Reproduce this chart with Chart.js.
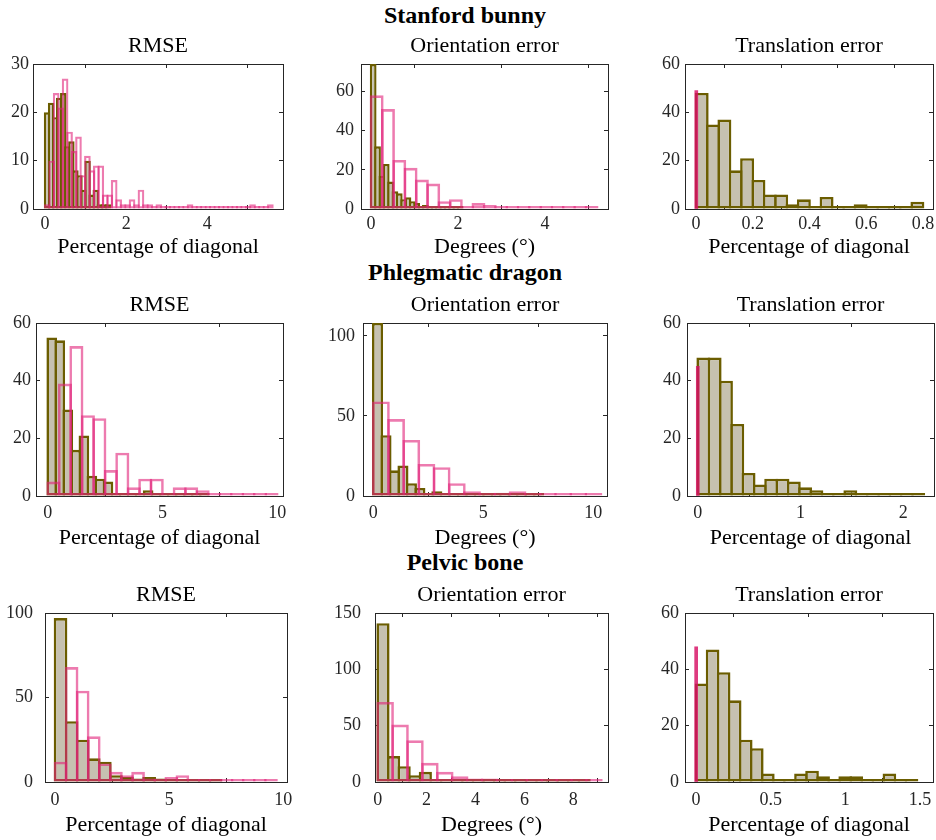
<!DOCTYPE html>
<html>
<head>
<meta charset="utf-8">
<script src="https://cdn.jsdelivr.net/npm/chart.js@4.4.1/dist/chart.umd.min.js"></script>
<style>
html,body{margin:0;padding:0;background:#fff;width:936px;height:840px;overflow:hidden;position:relative;}
canvas{position:absolute;}
.grp{position:absolute;left:0;width:930px;height:30px;line-height:30px;text-align:center;
  font-family:"Liberation Serif","Times New Roman",serif;font-weight:bold;font-size:24px;color:#000;}
</style>
</head>
<body>
<script>
// ---------------- DATA ----------------
const groupTitles = ['Stanford bunny', 'Phlegmatic dragon', 'Pelvic bone'];
const colTitles = ['RMSE', 'Orientation error', 'Translation error'];
const colXLabels = ['Percentage of diagonal', 'Degrees (°)', 'Percentage of diagonal'];

// Stanford bunny: bin counts (olive = filled histogram, pink = outline histogram)
const bunnyRmseOlive   = [20,22,19,23,24,13,14,8,7,4,10,3,4,1,1,1];
const bunnyRmsePink    = [1,10,24,21,27,16,12,15,7,11,8,9,9,3,3,6,2,1,1,2,1,4,1,1,0,1,0,0,0,0,0,0,1,0,0,0,0,0,0,0,0,0,0,0,0,0,1,0,0,0,1];
const bunnyOrientOlive = [74,32,17,23,14,9,8,5,6,4,3,1,2,0,1,0,0,0,0,0,1];
const bunnyOrientPink  = [58,51,25,21,15,13,4,5,1,3,2,1,0,0,0,0,1,0,0,1];
const bunnyTransOlive  = [48,35,37,16,21,12,6,6,2,4,1,5,0,1,2,0,0,1,0,3];
const bunnyTransPink   = [49];
const bunnyOliveWidths = [0.1, 0.1, 0.04];
const bunnyPinkWidths  = [0.11, 0.26, 0.002];

// Phlegmatic dragon
const dragonRmseOlive   = [55,54,30,16,21,7,6,5,1,1,0,1,2,0,0,0,0,0,0,1];
const dragonRmsePink    = [5,39,52,28,27,9,15,3,6,6,0,3,3,2,0,1,0,0,0,1];
const dragonOrientOlive = [108,38,16,19,8,5,0,3,0,1,0,0,0,0,1,0,0,0,1,1];
const dragonOrientPink  = [59,48,35,20,18,8,3,1,2,3,1,1,0,1,1];
const dragonTransOlive  = [48,48,40,25,8,4,6,6,5,3,2,1,1,2,0,0,0,0,0,1];
const dragonTransPink   = [45];
const dragonOliveWidths = [0.35, 0.385, 0.11];
const dragonPinkWidths  = [0.5, 0.69, 0.002];

// Pelvic bone
const pelvisRmseOlive   = [97,36,25,14,12,4,3,2,3,2,0,1,0,0,1];
const pelvisRmsePink    = [12,68,54,27,11,6,4,6,2,0,3,4,0,0,1,0,1,0,0,1];
const pelvisOrientOlive = [141,23,14,6,9,1,2,1,1,0,1,0,0,0,0,0,0,0,0,1];
const pelvisOrientPink  = [71,51,37,17,9,5,3,3,1,0,2,1,0,0,1];
const pelvisTransOlive  = [35,47,39,29,15,12,3,1,0,3,4,2,0,2,2,1,1,3,0,1];
const pelvisTransPink   = [48];
const pelvisOliveWidths = [0.485, 0.433, 0.074];
const pelvisPinkWidths  = [0.485, 0.61, 0.002];

// Tick labels
const bunnyXLabels  = [['0','2','4'], ['0','2','4'], ['0','0.2','0.4','0.6','0.8']];
const bunnyYLabels  = [['0','10','20','30'], ['0','20','40','60'], ['0','20','40','60']];
const dragonXLabels = [['0','5','10'], ['0','5','10'], ['0','1','2']];
const dragonYLabels = [['0','20','40','60'], ['0','50','100'], ['0','20','40','60']];
const pelvisXLabels = [['0','5','10'], ['0','2','4','6','8'], ['0','0.5','1','1.5']];
const pelvisYLabels = [['0','50','100'], ['0','50','100','150'], ['0','20','40','60']];

// Axis ranges
const xRanges = [[-0.296,5.866],[-0.23,5.448],[-0.0388,0.835],
                 [-0.51,10.25],[-0.468,10.62],[-0.104,2.299],
                 [-0.438,10.16],[-0.11,9.42],[-0.0737,1.587]];
const yMaxes = [30,74,60, 60,108,60, 100,150,60];

// ---------------- LAYOUT / STYLE ----------------
const boxes = [[33,64,283,209],[361,64,608,209],[685,64,933,209],
               [36,323,283,496],[363,323,607,496],[687,323,934,496],
               [45,613,287,782],[375,613,608,782],[685,613,933,782]];
const groupTitleTops = [0, 257, 547];
const rowHx = [51, 55, 56];
const rowTickPad = [8.4, 10.5, 11.2];
const yGaps = [4,7,5, 5,8,6, 12,14,6];

const SERIF = '"Liberation Serif", "Times New Roman", serif';
const AXIS = '#262626';
const OLIVE_EDGE = '#6b5d00';
const OLIVE_FACE = '#c6c1b0';
const PINK_EDGE = 'rgba(225,35,122,0.6)';
const PINK_BAR = 'rgba(215,15,100,0.82)';
Chart.defaults.font.family = SERIF;

const rows = [
  {olive:[bunnyRmseOlive,bunnyOrientOlive,bunnyTransOlive], pink:[bunnyRmsePink,bunnyOrientPink,bunnyTransPink],
   ow:bunnyOliveWidths, pw:bunnyPinkWidths, xl:bunnyXLabels, yl:bunnyYLabels},
  {olive:[dragonRmseOlive,dragonOrientOlive,dragonTransOlive], pink:[dragonRmsePink,dragonOrientPink,dragonTransPink],
   ow:dragonOliveWidths, pw:dragonPinkWidths, xl:dragonXLabels, yl:dragonYLabels},
  {olive:[pelvisRmseOlive,pelvisOrientOlive,pelvisTransOlive], pink:[pelvisRmsePink,pelvisOrientPink,pelvisTransPink],
   ow:pelvisOliveWidths, pw:pelvisPinkWidths, xl:pelvisXLabels, yl:pelvisYLabels}
];

groupTitles.forEach((t, i) => {
  const d = document.createElement('div');
  d.className = 'grp';
  d.style.top = groupTitleTops[i] + 'px';
  d.textContent = t;
  document.body.appendChild(d);
});

function toPoints(counts, w) {
  return counts.map((c, i) => ({x: (i + 0.5) * w, y: c}));
}

function makePanel(r, c) {
  const k = r * 3 + c;
  const row = rows[r];
  const [l, t, rr, b] = boxes[k];
  const WY = 50, TH = 31, PR = 16, HX = rowHx[r];
  const W = (rr - l) + WY + PR, H = (b - t) + TH + HX;
  const cv = document.createElement('canvas');
  cv.width = W; cv.height = H;
  cv.style.left = (l - WY) + 'px'; cv.style.top = (t - TH) + 'px';
  cv.style.width = W + 'px'; cv.style.height = H + 'px';
  document.body.appendChild(cv);

  const [xmin, xmax] = xRanges[k];
  const ymax = yMaxes[k];
  const xLab = row.xl[c], yLab = row.yl[c];
  const xVals = xLab.map(Number), yVals = yLab.map(Number);
  const setTicks = (vals) => (s) => { s.ticks = vals.map(v => ({value: v})); };
  const grid = {display: true, drawOnChartArea: false, drawTicks: true, tickLength: -4, color: AXIS, lineWidth: 1};
  const border = {display: true, color: AXIS, width: 1};

  const pxPerUnit = (rr - l) / (xmax - xmin);
  const ow = row.ow[c], pw = row.pw[c];
  const oPx = pxPerUnit * ow, pPx = pxPerUnit * pw;
  const obw = oPx < 6 ? 2.4 : 2.6;
  const pbw = pPx < 6 ? 2.2 : 2.6;
  const pinkCounts = row.pink[c];
  const single = pinkCounts.length === 1;

  const pinkDs = {
    label: 'pink', data: toPoints(pinkCounts, pw), xAxisID: 'xp', yAxisID: 'y', order: 1,
    backgroundColor: single ? PINK_BAR : 'rgba(0,0,0,0)',
    borderColor: PINK_EDGE, borderWidth: single ? 0 : pbw, borderSkipped: false,
    barPercentage: single ? 1 : 1 + pbw / pPx, categoryPercentage: 1, grouped: false, minBarLength: 3, clip: 0
  };
  if (single) pinkDs.barThickness = 3;
  const oliveDs = {
    label: 'olive', data: toPoints(row.olive[c], ow), xAxisID: 'x', yAxisID: 'y', order: 2,
    backgroundColor: OLIVE_FACE, borderColor: OLIVE_EDGE, borderWidth: obw,
    borderSkipped: false, barPercentage: 1 + obw / oPx, categoryPercentage: 1, grouped: false,
    minBarLength: 3, clip: 0
  };

  new Chart(cv, {
    type: 'bar',
    data: {datasets: [pinkDs, oliveDs]},
    options: {
      responsive: false, animation: false, events: [], devicePixelRatio: 1,
      layout: {padding: {left: 0, right: PR, top: 0, bottom: 0}},
      plugins: {
        legend: {display: false}, tooltip: {enabled: false},
        title: {display: true, fullSize: false, text: colTitles[c], color: '#000',
                font: {family: SERIF, size: 22, weight: 'normal', lineHeight: '26px'},
                padding: {top: 0, bottom: 5}}
      },
      scales: {
        x: {type: 'linear', position: 'bottom', min: xmin, max: xmax, bounds: 'data', offset: false,
            grid, border, afterBuildTicks: setTicks(xVals),
            afterFit(s) { s.height = HX; s.paddingLeft = 0; s.paddingRight = 0; },
            ticks: {color: AXIS, font: {size: 18}, padding: rowTickPad[r], maxRotation: 0, minRotation: 0,
                    autoSkip: false, callback: (v, i) => xLab[i]},
            title: {display: true, text: colXLabels[c], color: '#000',
                    font: {size: 22, lineHeight: '26px'}, padding: {top: 0, bottom: 0}}},
        xp: {type: 'linear', display: false, min: xmin, max: xmax, bounds: 'data', offset: false,
             afterBuildTicks: setTicks([xmin, xmax])},
        xt: {type: 'linear', position: 'top', min: xmin, max: xmax, bounds: 'data', offset: false,
             grid, border, ticks: {display: false}, afterBuildTicks: setTicks(xVals),
             afterFit(s) { s.height = 0; s.paddingLeft = 0; s.paddingRight = 0; }},
        y: {type: 'linear', position: 'left', min: 0, max: ymax, bounds: 'data',
            grid, border, afterBuildTicks: setTicks(yVals),
            afterFit(s) { s.width = WY; s.paddingTop = 0; s.paddingBottom = 0; },
            ticks: {color: AXIS, font: {size: 18}, padding: 4 + yGaps[k], callback: (v, i) => yLab[i]}},
        yr: {type: 'linear', position: 'right', min: 0, max: ymax, bounds: 'data',
             grid, border, ticks: {display: false}, afterBuildTicks: setTicks(yVals),
             afterFit(s) { s.width = 0; s.paddingTop = 0; s.paddingBottom = 0; }}
      }
    }
  });
}

for (let r = 0; r < 3; r++) for (let c = 0; c < 3; c++) makePanel(r, c);
</script>
</body>
</html>
